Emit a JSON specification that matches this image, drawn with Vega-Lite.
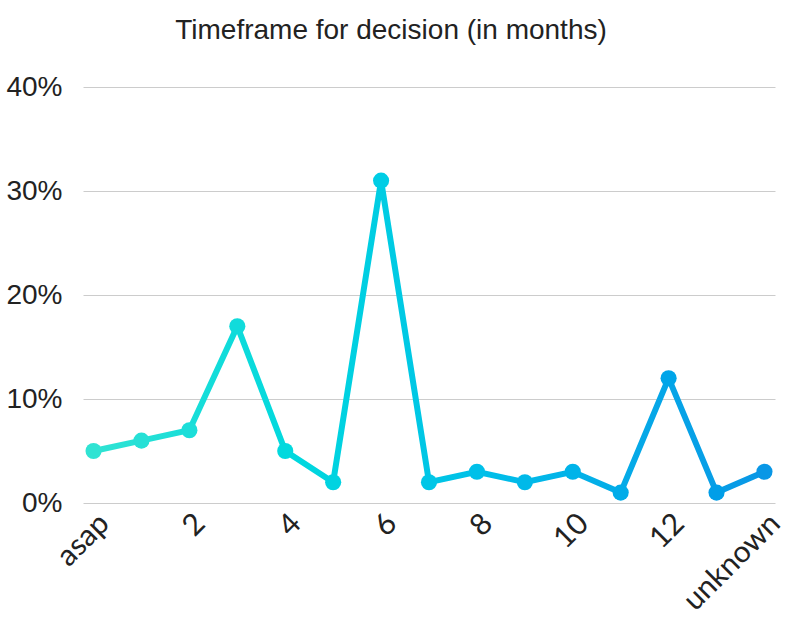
{
  "$schema": "https://vega.github.io/schema/vega-lite/v6.json",
  "autosize": "none",
  "width": 692,
  "height": 416,
  "padding": {"left": 83, "top": 87, "right": 25, "bottom": 121},
  "background": "white",
  "view": {"stroke": null},
  "title": {
    "text": "Timeframe for decision (in months)",
    "font": "Liberation Sans",
    "fontSize": 28,
    "fontWeight": "normal",
    "color": "#222222",
    "anchor": "middle",
    "offset": 28,
    "dx": -38
  },
  "data": {
    "values": [
      {"i": 0, "when": "asap", "pct": 5},
      {"i": 1, "when": "1", "pct": 6},
      {"i": 2, "when": "2", "pct": 7},
      {"i": 3, "when": "3", "pct": 17},
      {"i": 4, "when": "4", "pct": 5},
      {"i": 5, "when": "5", "pct": 2},
      {"i": 6, "when": "6", "pct": 31},
      {"i": 7, "when": "7", "pct": 2},
      {"i": 8, "when": "8", "pct": 3},
      {"i": 9, "when": "9", "pct": 2},
      {"i": 10, "when": "10", "pct": 3},
      {"i": 11, "when": "11", "pct": 1},
      {"i": 12, "when": "12", "pct": 12},
      {"i": 13, "when": "24", "pct": 1},
      {"i": 14, "when": "unknown", "pct": 3}
    ]
  },
  "encoding": {
    "x": {
      "field": "when",
      "type": "ordinal",
      "sort": null,
      "scale": {"type": "point", "padding": 0.22},
      "axis": {
        "title": null,
        "values": ["asap", "2", "4", "6", "8", "10", "12", "unknown"],
        "labelAngle": -45,
        "labelAlign": "right",
        "labelBaseline": "top",
        "labelFont": "Lato",
        "labelFontSize": 30,
        "labelColor": "#222222",
        "labelPadding": 5,
        "ticks": false,
        "domain": false,
        "grid": false,
        "labelOverlap": false
      }
    },
    "y": {
      "field": "pct",
      "type": "quantitative",
      "scale": {"domain": [0, 40]},
      "axis": {
        "title": null,
        "values": [0, 10, 20, 30, 40],
        "labelExpr": "datum.value + '%'",
        "labelFont": "Liberation Sans",
        "labelFontSize": 28,
        "labelColor": "#222222",
        "labelPadding": 21,
        "ticks": false,
        "domain": false,
        "grid": true,
        "gridColor": "#cccccc",
        "gridWidth": 1
      }
    }
  },
  "layer": [
    {
      "mark": {
        "type": "line",
        "strokeWidth": 6,
        "color": {
          "gradient": "linear",
          "x1": 0, "x2": 1, "y1": 0, "y2": 0,
          "stops": [
            {"offset": 0, "color": "#30e3d3"},
            {"offset": 0.3, "color": "#00d8de"},
            {"offset": 0.6, "color": "#00bde9"},
            {"offset": 1, "color": "#0997e6"}
          ]
        }
      }
    },
    {
      "mark": {"type": "circle", "size": 260, "opacity": 1},
      "encoding": {
        "color": {
          "field": "i",
          "type": "quantitative",
          "scale": {"domain": [0, 4.2, 8.4, 14], "range": ["#30e3d3", "#00d8de", "#00bde9", "#0997e6"]},
          "legend": null
        }
      }
    }
  ]
}
